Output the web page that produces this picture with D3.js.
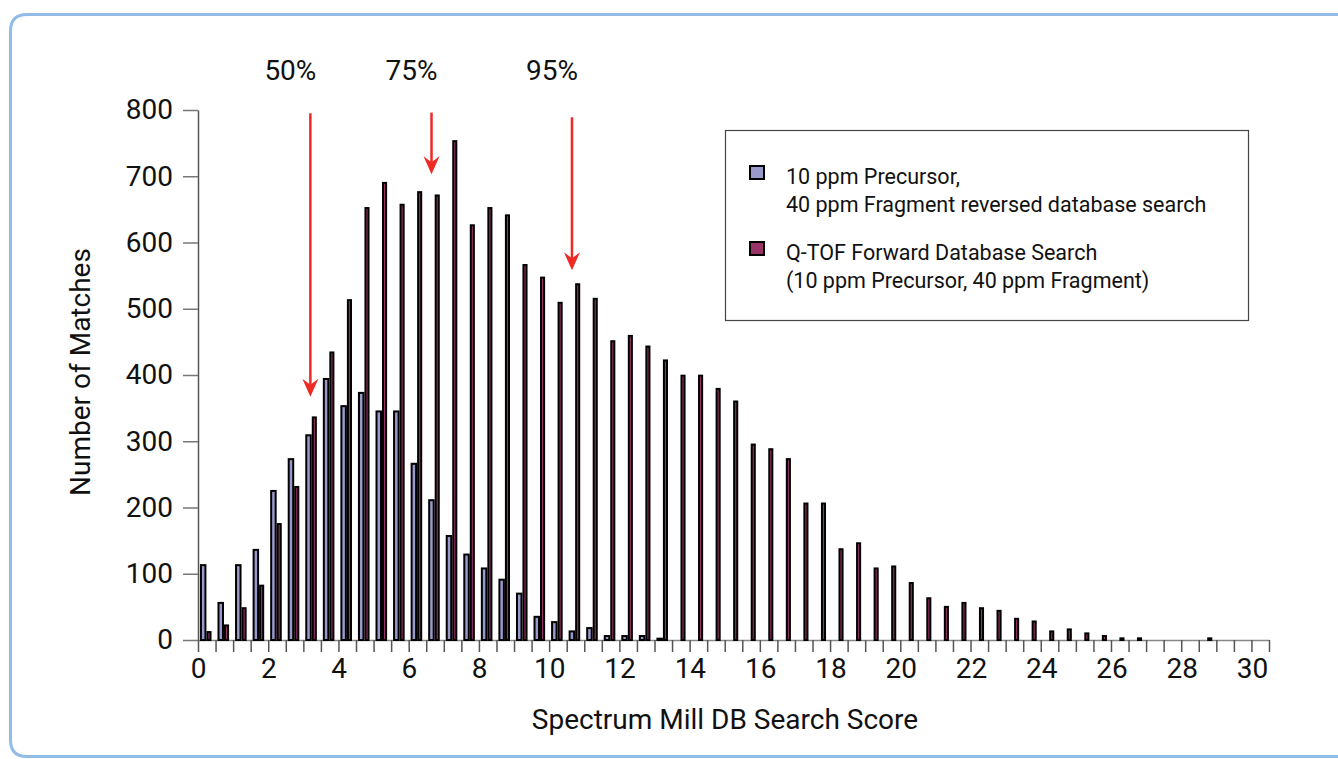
<!DOCTYPE html>
<html>
<head>
<meta charset="utf-8">
<script src="https://cdn.jsdelivr.net/npm/d3@7"></script>
<style>
  html, body { margin: 0; padding: 0; overflow: hidden; background: #fff; }
  svg { display: block; }
  text { font-family: Roboto, "Noto Sans", sans-serif; fill: #111; }
</style>
</head>
<body>
<div id="chart"></div>
<script>
//bin start scores (0.5 wide bins)
var binStarts = d3.range(0, 30.5, 0.5);

//10 ppm precursor, 40 ppm fragment reversed database search
var reversedCounts = [113, 56, 113, 136, 225, 273, 309, 394, 353, 373, 345, 345, 266, 211, 157, 129,
  108, 91, 70, 35, 27, 13, 18, 6, 6, 6, 2, 0, 0, 0, 0, 0, 0, 0, 0, 0, 0, 0, 0, 0, 0,
  0, 0, 0, 0, 0, 0, 0, 0, 0, 0, 0, 0, 0, 0, 0, 0, 0, 0, 0, 0];

//Q-TOF forward database search
var forwardCounts = [12, 22, 48, 82, 175, 231, 336, 434, 513, 652, 690, 657, 676, 671, 753, 626,
  652, 641, 566, 547, 509, 537, 515, 451, 459, 443, 422, 399, 399, 379, 360, 295, 288, 273,
  206, 206, 137, 146, 108, 111, 86, 63, 50, 56, 48, 44, 32, 28, 13, 16, 10, 6, 2.5, 2.5,
  0, 0, 0, 2.5, 0, 0, 0];

//percentile arrows
var percentLabels = ["50%", "75%", "95%"];
var percentScores = [3.2, 6.65, 10.65];
var arrowTops = [795, 796, 789];
var arrowTips = [367, 703, 558];

var yTicks = d3.range(0, 900, 100);
var xLabelTicks = d3.range(0, 32, 2);
var xMinorTicks = d3.range(0, 31, 0.5);

var legendLines = [
  ["10 ppm Precursor,", "40 ppm Fragment reversed database search"],
  ["Q-TOF Forward Database Search", "(10 ppm Precursor, 40 ppm Fragment)"]
];
var colors = ["#9999cc", "#993366"];

//define chart area
var svgWidth = 1338;
var svgHeight = 759;

var svg = d3.select("#chart")
  .append("svg")
  .attr("width", svgWidth)
  .attr("height", svgHeight);

//rounded blue frame, right side runs off the page
svg.append("path")
  .attr("d", "M1400,14.5 L27,14.5 Q10.5,14.5 10.5,31 L10.5,740 Q10.5,756.5 27,756.5 L1400,756.5")
  .attr("fill", "none")
  .attr("stroke", "#93bbe8")
  .attr("stroke-width", 3);

//scales
var xScale = d3.scaleLinear().domain([0, 30.5]).range([198, 1269]);
var xLabelScale = d3.scaleLinear().domain([0, 30]).range([198, 1252]);
var yScale = d3.scaleLinear().domain([0, 800]).range([640, 110]);

var binW = xScale(0.5) - xScale(0);

//y axis
var yAxis = svg.append("g")
  .attr("transform", "translate(198,0)")
  .call(d3.axisLeft(yScale).tickValues(yTicks).tickSize(15).tickSizeOuter(0).tickPadding(10));
yAxis.selectAll("text").style("font-size", "28px").style("font-family", "Roboto").attr("fill", "#111");
yAxis.selectAll("line").attr("stroke", "#777").attr("stroke-width", 1.5);
yAxis.select(".domain").attr("stroke", "#555").attr("stroke-width", 1.5);

//x axis ticks (every half point)
var xAxis = svg.append("g")
  .attr("transform", "translate(0,640)")
  .call(d3.axisBottom(xScale).tickValues(xMinorTicks).tickSize(12).tickSizeOuter(0).tickFormat(""));
xAxis.selectAll("line").attr("stroke", "#555").attr("stroke-width", 1.5);
xAxis.select(".domain").attr("stroke", "#888").attr("stroke-width", 1.5);

//x axis labels
var xLabels = svg.append("g")
  .attr("transform", "translate(0,640)")
  .call(d3.axisBottom(xLabelScale).tickValues(xLabelTicks).tickSize(0).tickPadding(18));
xLabels.select(".domain").remove();
xLabels.selectAll("text").style("font-size", "28px").style("font-family", "Roboto").attr("fill", "#111");

//bars
var series = [reversedCounts, forwardCounts];
var offsets = [0.11, 0.48];
var widths = [0.37, 0.29];

series.forEach(function(counts, s) {
  svg.append("g")
    .selectAll("rect")
    .data(binStarts.map(function(b, i) { return { start: b, value: counts[i] }; })
      .filter(function(d) { return d.value > 0; }))
    .enter()
    .append("rect")
    .attr("x", d => xScale(d.start) + binW * offsets[s] + 1)
    .attr("width", binW * widths[s] - 2)
    .attr("y", d => yScale(d.value))
    .attr("height", d => Math.max(0.5, yScale(0) - yScale(d.value)))
    .attr("fill", colors[s])
    .attr("stroke", "#000")
    .attr("stroke-width", 2);
});

//percentile arrows
percentLabels.forEach(function(lab, i) {
  var ax = xScale(percentScores[i]);
  var tip = yScale(arrowTips[i]);
  svg.append("line")
    .attr("x1", ax).attr("x2", ax)
    .attr("y1", yScale(arrowTops[i]))
    .attr("y2", tip - 10)
    .attr("stroke", "#ee2a24")
    .attr("stroke-width", 2.5);
  svg.append("path")
    .attr("d", `M${ax},${tip} L${ax - 8},${tip - 18} L${ax},${tip - 12} L${ax + 8},${tip - 18} Z`)
    .attr("fill", "#ee2a24");
  svg.append("text")
    .attr("x", ax - 20)
    .attr("y", 80)
    .attr("text-anchor", "middle")
    .style("font-size", "28px")
    .text(lab);
});

//legend
svg.append("rect")
  .attr("x", 725.5)
  .attr("y", 130.5)
  .attr("width", 523)
  .attr("height", 190)
  .attr("fill", "#fff")
  .attr("stroke", "#444")
  .attr("stroke-width", 1.2);

var legendY = [166, 242];
legendLines.forEach(function(lines, i) {
  svg.append("rect")
    .attr("x", 750)
    .attr("y", legendY[i])
    .attr("width", 14)
    .attr("height", 13)
    .attr("fill", colors[i])
    .attr("stroke", "#000")
    .attr("stroke-width", 2);
  lines.forEach(function(t, j) {
    svg.append("text")
      .attr("x", 786)
      .attr("y", legendY[i] + 18 + j * 28)
      .style("font-size", "21.5px")
      .text(t);
  });
});

//axis titles
svg.append("text")
  .attr("transform", "rotate(-90)")
  .attr("x", -372)
  .attr("y", 90)
  .attr("text-anchor", "middle")
  .style("font-size", "28px")
  .text("Number of Matches");

svg.append("text")
  .attr("x", 725)
  .attr("y", 729)
  .attr("text-anchor", "middle")
  .style("font-size", "28px")
  .text("Spectrum Mill DB Search Score");
</script>
</body>
</html>
